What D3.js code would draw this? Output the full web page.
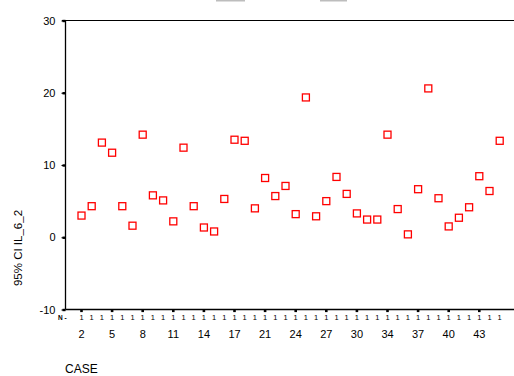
<!DOCTYPE html>
<html>
<head>
<meta charset="utf-8">
<script src="https://cdn.jsdelivr.net/npm/d3@7"></script>
<style>
  body { margin: 0; background: #fff; }
  text { font-family: "Liberation Sans", Arial, sans-serif; fill: #000; }
</style>
</head>
<body>
<div id="chart"></div>
<script>
// case ids on the x axis (some cases are missing)
var cases = [2, 3, 4, 5, 6, 7, 8, 9, 10, 11, 12, 13, 14, 15, 16, 17, 18, 20,
  21, 22, 23, 24, 25, 26, 27, 28, 29, 30, 31, 33, 34, 35, 36, 37, 38, 39, 40,
  41, 42, 43, 44, 45];
// 95% CI of IL_6_2, one value per case
var values = [3.0, 4.3, 13.1, 11.7, 4.3, 1.6, 14.2, 5.8, 5.1, 2.2, 12.4, 4.3,
  1.35, 0.8, 5.3, 13.5, 13.35, 4.0, 8.2, 5.7, 7.1, 3.2, 19.35, 2.9, 5.0, 8.35,
  6.0, 3.3, 2.45, 2.45, 14.2, 3.9, 0.4, 6.65, 20.6, 5.4, 1.5, 2.7, 4.15, 8.45,
  6.4, 13.35];
var labelCases = [2, 5, 8, 11, 14, 17, 21, 24, 27, 30, 34, 37, 40, 43];
var yTicks = [-10, 0, 10, 20, 30];

var width = 514, height = 376;
var svg = d3.select("#chart").append("svg").attr("width", width).attr("height", height);

var plotLeft = 65.5, plotTop = 20.5, plotBottom = 309.5;

var x = d3.scalePoint().domain(cases).range([81.5, 499.7]);
var y = d3.scaleLinear().domain([-10, 30]).range([plotBottom, plotTop]);

// cut off legend remnants at the very top
svg.append("rect").attr("x", 216).attr("y", 0).attr("width", 29).attr("height", 1.5).attr("fill", "#bdbdbd");
svg.append("rect").attr("x", 320).attr("y", 0).attr("width", 27).attr("height", 1.5).attr("fill", "#bdbdbd");

// frame lines: top, left, bottom
svg.append("line").attr("x1", 62).attr("x2", width).attr("y1", plotTop).attr("y2", plotTop)
  .attr("stroke", "#000").attr("stroke-width", 1);
svg.append("line").attr("x1", plotLeft).attr("x2", plotLeft).attr("y1", plotTop).attr("y2", plotBottom)
  .attr("stroke", "#000").attr("stroke-width", 1.3);
svg.append("line").attr("x1", plotLeft).attr("x2", width).attr("y1", plotBottom).attr("y2", plotBottom)
  .attr("stroke", "#000").attr("stroke-width", 1.3);

// y axis (plain hyphen for negatives, like the original)
var yAxis = svg.append("g").attr("transform", "translate(" + plotLeft + ",0)")
  .call(d3.axisLeft(y).tickValues(yTicks).tickFormat(function (d) { return String(d); })
    .tickSize(4).tickPadding(6).tickSizeOuter(0));
yAxis.select(".domain").remove();
yAxis.selectAll(".tick line").attr("stroke", "#000").attr("stroke-width", 1);
yAxis.selectAll(".tick").append("rect").attr("x", -3).attr("y", -1.2).attr("width", 3).attr("height", 2.4).attr("fill", "#000");
yAxis.selectAll(".tick text").style("font-size", "11px").attr("fill", "#000");

// x axis: dots at labelled cases, N row of "1"s, case labels
var xg = svg.append("g");
xg.append("text").attr("x", 58).attr("y", 320).style("font-size", "6.5px").style("font-weight", "bold").text("N -");
xg.selectAll(".nval").data(cases).enter().append("text")
  .attr("class", "nval")
  .attr("x", function (d) { return x(d); })
  .attr("y", 320)
  .attr("text-anchor", "middle")
  .style("font-size", "7.5px")
  .text("1");
xg.selectAll(".dot").data(labelCases).enter().append("rect")
  .attr("class", "dot")
  .attr("x", function (d) { return x(d) - 1.3; })
  .attr("y", plotBottom)
  .attr("width", 2.6).attr("height", 2.6)
  .attr("fill", "#000");
xg.selectAll(".clab").data(labelCases).enter().append("text")
  .attr("class", "clab")
  .attr("x", function (d) { return x(d); })
  .attr("y", 338)
  .attr("text-anchor", "middle")
  .style("font-size", "11px")
  .text(function (d) { return d; });

// axis titles
svg.append("text").attr("x", 65).attr("y", 373).style("font-size", "12px").text("CASE");
svg.append("text")
  .attr("transform", "translate(22,248) rotate(-90)")
  .attr("text-anchor", "middle")
  .style("font-size", "11.5px")
  .text("95% CI IL_6_2");

// markers
svg.selectAll(".pt").data(cases).enter().append("rect")
  .attr("class", "pt")
  .attr("x", function (d) { return x(d) - 3.5; })
  .attr("y", function (d, i) { return y(values[i]) - 3.5; })
  .attr("width", 7).attr("height", 7)
  .attr("fill", "#fff")
  .attr("stroke", "#ff0000")
  .attr("stroke-width", 1.3);
</script>
</body>
</html>
